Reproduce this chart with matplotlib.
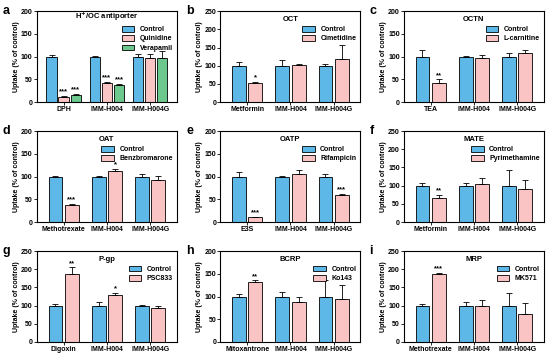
import numpy as np
import matplotlib
matplotlib.use("Agg")
import matplotlib.pyplot as plt
from matplotlib.patches import Patch

plt.rcParams['font.family'] = ['Liberation Sans', 'DejaVu Sans']
plt.rcParams['font.weight'] = 'bold'
plt.rcParams['axes.labelweight'] = 'bold'
plt.rcParams['axes.linewidth'] = 0.8

BLUE = '#5db8e8'
PINK = '#fbc4c4'
GREEN = '#6cc88c'

# ---- data ----
letters = ['a', 'b', 'c', 'd', 'e', 'f', 'g', 'h', 'i']
titles = ['H$^{+}$/OC antiporter', 'OCT', 'OCTN', 'OAT', 'OATP', 'MATE', 'P-gp', 'BCRP', 'MRP']
ymax = [200, 250, 200, 200, 200, 250, 250, 200, 250]

substrates = [
    ['DPH', 'IMM-H004', 'IMM-H004G'],
    ['Metformin', 'IMM-H004', 'IMM-H004G'],
    ['TEA', 'IMM-H004', 'IMM-H004G'],
    ['Methotrexate', 'IMM-H004', 'IMM-H004G'],
    ['E3S', 'IMM-H004', 'IMM-H004G'],
    ['Metformin', 'IMM-H004', 'IMM-H004G'],
    ['Digoxin', 'IMM-H004', 'IMM-H004G'],
    ['Mitoxantrone', 'IMM-H004', 'IMM-H004G'],
    ['Methotrexate', 'IMM-H004', 'IMM-H004G'],
]

series_names = [
    ['Control', 'Quinidine', 'Verapamil'],
    ['Control', 'Cimetidine'],
    ['Control', 'L-carnitine'],
    ['Control', 'Benzbromarone'],
    ['Control', 'Rifampicin'],
    ['Control', 'Pyrimethamine'],
    ['Control', 'PSC833'],
    ['Control', 'Ko143'],
    ['Control', 'MK571'],
]

means = [
    [[100, 100, 100], [11, 42, 96], [16, 38, 96]],
    [[100, 100, 100], [53, 102, 118]],
    [[100, 100, 100], [42, 98, 107]],
    [[100, 100, 100], [38, 112, 93]],
    [[100, 100, 100], [10, 106, 60]],
    [[100, 100, 100], [66, 105, 91]],
    [[100, 100, 100], [188, 130, 93]],
    [[100, 100, 100], [132, 88, 95]],
    [[100, 100, 100], [187, 100, 76]],
]

errs = [
    [[3, 2, 5], [2, 2, 9], [2, 2, 17]],
    [[10, 15, 5], [3, 4, 38]],
    [[15, 2, 7], [8, 5, 8]],
    [[2, 2, 5], [2, 5, 8]],
    [[10, 2, 5], [2, 8, 2]],
    [[6, 8, 42], [8, 15, 24]],
    [[5, 10, 3], [17, 6, 7]],
    [[5, 10, 37], [4, 10, 30]],
    [[5, 10, 35], [3, 15, 30]],
]

stars = [
    [['', '', ''], ['***', '***', ''], ['***', '***', '']],
    [['', '', ''], ['*', '', '']],
    [['', '', ''], ['**', '', '']],
    [['', '', ''], ['***', '*', '']],
    [['', '', ''], ['***', '', '***']],
    [['', '', ''], ['**', '', '']],
    [['', '', ''], ['**', '*', '']],
    [['', '', ''], ['**', '', '']],
    [['', '', ''], ['***', '', '']],
]

fig, axes = plt.subplots(3, 3, figsize=(5.5, 3.6), dpi=100)
fig.subplots_adjust(left=0.067, right=0.989, top=0.969, bottom=0.05,
                    wspace=0.31, hspace=0.32)

for k, ax in enumerate(axes.flat):
    n = len(series_names[k])
    if n == 3:
        colors = [BLUE, PINK, GREEN]
        width = 0.24
        offsets = [-0.28, 0.0, 0.28]
        title_y = 0.94
    else:
        colors = [BLUE, PINK]
        width = 0.32
        offsets = [-0.19, 0.19]
        title_y = 0.91
    x = np.arange(3)
    for s in range(n):
        m = np.array(means[k][s])
        e = np.array(errs[k][s])
        ax.bar(x + offsets[s], m, width, color=colors[s], edgecolor='black',
               linewidth=0.6, yerr=[np.zeros_like(e), e],
               error_kw=dict(ecolor='black', elinewidth=0.6, capsize=2.2, capthick=0.6),
               zorder=2)
        for j in range(3):
            if stars[k][s][j]:
                ax.text(x[j] + offsets[s], m[j] + e[j] + ymax[k] * 0.005, stars[k][s][j],
                        ha='center', va='bottom', fontsize=5.5, fontweight='bold')
    ax.set_xlim(-0.62, 2.62)
    ax.set_ylim(0, ymax[k])
    ax.set_yticks(np.arange(0, ymax[k] + 1, 50))
    ax.set_xticks(x)
    ax.set_xticklabels(substrates[k])
    ax.tick_params(axis='both', labelsize=5, length=2, width=0.6, pad=1)
    ax.set_ylabel('Uptake (% of control)', fontsize=5, labelpad=1)
    ax.text(0.5, title_y, titles[k], transform=ax.transAxes, fontsize=5.5,
            fontweight='bold', ha='center', va='center')
    handles = [Patch(facecolor=colors[s], edgecolor='black', linewidth=0.6)
               for s in range(n)]
    ax.legend(handles, series_names[k], loc='upper right', fontsize=5,
              frameon=False, handlelength=1.8, handleheight=0.8,
              bbox_to_anchor=(1.0, 0.88), borderaxespad=0.2, labelspacing=0.3)
    ax.text(-0.245, 1.0, letters[k], transform=ax.transAxes, fontsize=9,
            fontweight='bold', ha='left', va='center')

fig.savefig('out.png', dpi=100)
